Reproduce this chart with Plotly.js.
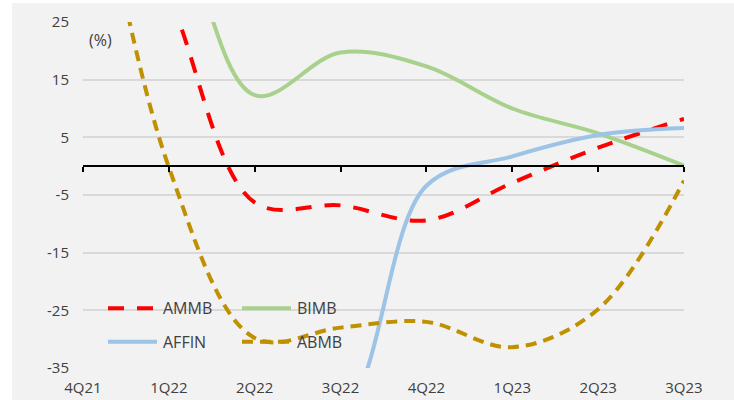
<!DOCTYPE html>
<html>
<head>
<meta charset="utf-8">
<script src="https://cdn.plot.ly/plotly-3.0.1.min.js"></script>
<style>
  html, body { margin: 0; padding: 0; background: #ffffff; }
  #chart { width: 734px; height: 400px; }
</style>
</head>
<body>
<div id="chart"></div>
<script>
// Quarterly YoY change (%) by bank
const quarters = ['4Q21', '1Q22', '2Q22', '3Q22', '4Q22', '1Q23', '2Q23', '3Q23'];
const ammb  = [60, 29.5, -6.3, -6.8, -9.4, -2.9, 3.2, 8.2];
const bimb  = [60, 45, 12.3, 19.7, 17.3, 10.0, 5.7, 0.1];
const affin = [-48, -42, -40, -43, -3.4, 1.7, 5.4, 6.6];
const abmb  = [66, -0.2, -29.8, -28.0, -27.0, -31.4, -24.8, -2.5];

const seriesNames = ['AMMB', 'BIMB', 'AFFIN', 'ABMB'];
const seriesValues = [ammb, bimb, affin, abmb];

const yTickVals = [25, 15, 5, -5, -15, -25, -35];
const yTickText = ['25', '15', '5', '-5', '-15', '-25', '-35'];

// Page geometry (px) and helpers to place layout items in paper units
const W = 734, H = 400;
const M = { l: 83, r: 50, t: 22, b: 32 };
const plotW = W - M.l - M.r, plotH = H - M.t - M.b;
const px = x => (x - M.l) / plotW;
const py = y => (H - M.b - y) / plotH;

const FONT = '"Open Sans", "Noto Sans", sans-serif';
const TEXT = '#404040';

const styles = [
  { color: '#ff0000', width: 4, dash: '16px,13px' },
  { color: '#a9d18e', width: 4, dash: 'solid' },
  { color: '#9dc3e6', width: 4, dash: 'solid' },
  { color: '#bf9000', width: 4, dash: '11px,7px' }
];

const traces = seriesNames.map((name, i) => ({
  type: 'scatter',
  mode: 'lines',
  name: name,
  x: quarters,
  y: seriesValues[i],
  line: { color: styles[i].color, width: styles[i].width, dash: styles[i].dash, shape: 'spline', smoothing: 1 },
  hoverinfo: 'skip',
  showlegend: false
}));

// carrier for the category axis drawn along zero
traces.push({
  type: 'scatter', mode: 'lines', x: quarters, y: quarters.map(() => null),
  xaxis: 'x2', yaxis: 'y', showlegend: false, hoverinfo: 'skip'
});

// Hand-placed legend: two columns, two rows
const legendRows = [308.3, 341.7];
const legendCols = [{ x0: 108, x1: 157, tx: 161 }, { x0: 242, x1: 291, tx: 295 }];
const shapes = [
  { type: 'rect', xref: 'paper', yref: 'paper', layer: 'below',
    x0: px(12), x1: px(734), y0: py(400), y1: py(3),
    fillcolor: '#f2f2f2', line: { width: 0 } }
];
const annotations = [
  { xref: 'paper', yref: 'paper', x: px(100), y: py(40), text: '(%)', showarrow: false,
    xanchor: 'center', yanchor: 'middle', font: { family: FONT, size: 16, color: TEXT } }
];
seriesNames.forEach((name, i) => {
  const row = legendRows[Math.floor(i / 2)];
  const col = legendCols[i % 2];
  shapes.push({ type: 'line', xref: 'paper', yref: 'paper', layer: 'above',
    x0: px(col.x0), x1: px(col.x1), y0: py(row), y1: py(row),
    line: { color: styles[i].color, width: styles[i].width, dash: styles[i].dash } });
  annotations.push({ xref: 'paper', yref: 'paper', x: px(col.tx), y: py(row), text: name,
    showarrow: false, xanchor: 'left', yanchor: 'middle',
    font: { family: FONT, size: 16, color: TEXT } });
});

const layout = {
  width: W, height: H,
  margin: M,
  paper_bgcolor: '#ffffff',
  plot_bgcolor: 'rgba(0,0,0,0)',
  showlegend: false,
  font: { family: FONT, size: 15, color: TEXT },
  xaxis: {
    type: 'category', categoryarray: quarters, range: [0, 7],
    showgrid: false, zeroline: false, showline: false,
    ticks: 'outside', ticklen: 6, tickcolor: 'rgba(0,0,0,0)',
    tickfont: { family: FONT, size: 15, color: TEXT }, fixedrange: true
  },
  xaxis2: {
    type: 'category', categoryarray: quarters, range: [0, 7],
    overlaying: 'x', anchor: 'free', position: 35 / 60, side: 'bottom',
    showline: true, linecolor: '#000000', linewidth: 2,
    ticks: 'outside', ticklen: 5, tickwidth: 2, tickcolor: '#000000',
    showticklabels: false, showgrid: false, zeroline: false, fixedrange: true
  },
  yaxis: {
    range: [-35, 25], tickvals: yTickVals, ticktext: yTickText,
    showgrid: true, gridcolor: '#d9d9d9', gridwidth: 2,
    zeroline: false, showline: false, ticks: '', ticklabelstandoff: 13,
    tickfont: { family: FONT, size: 15, color: TEXT }, fixedrange: true
  },
  shapes: shapes,
  annotations: annotations
};

Plotly.newPlot('chart', traces, layout, { staticPlot: true, displayModeBar: false });
</script>
</body>
</html>
